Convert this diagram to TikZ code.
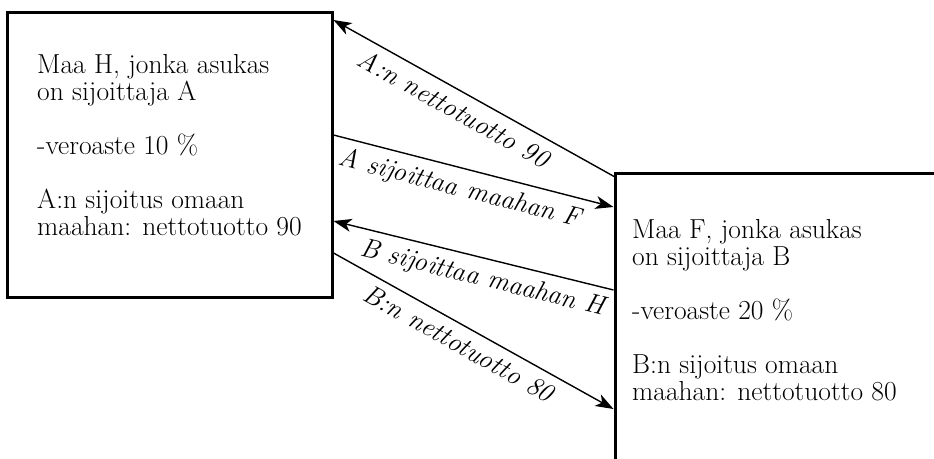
\documentclass[tikz,border=0pt]{standalone}
\usepackage{fontspec}
\usetikzlibrary{arrows.meta,calc}
\begin{document}
\begin{tikzpicture}[x=1pt,y=-1pt,
  box/.style={draw, line width=3pt, inner sep=0pt, anchor=north west},
  txt/.style={anchor=north west, inner sep=0pt, align=left, font=\fontsize{27.5}{27}\selectfont},
  arr/.style={line width=1.4pt},
  tip/.style={-{Stealth[length=18pt,width=13pt,inset=5pt]}},
  tipl/.style={{Stealth[length=18pt,width=13pt,inset=5pt]}-},
  lab/.style={font=\fontsize{27}{27}\selectfont\itshape, sloped, anchor=north, inner sep=8pt}]
\useasboundingbox (0,0) rectangle (934,458);
\fill[white] (0,0) rectangle (934,458);
\clip (0,0) rectangle (934,458);
\node[box, minimum width=325pt, minimum height=285pt] (H) at (5.5,10.5) {};
\node[box, minimum width=340pt, minimum height=320pt] (F) at (613.5,171.5) {};
\node[txt] (Ht) at (37,54) {Maa H, jonka asukas\\on sijoittaja A\\[27pt]-veroaste 10 \%\\[27pt]A:n sijoitus omaan\\maahan: nettotuotto 90};
\node[txt] (Ft) at (632,219) {Maa F, jonka asukas\\on sijoittaja B\\[27pt]-veroaste 20 \%\\[27pt]B:n sijoitus omaan\\maahan: nettotuotto 80};
\coordinate (h1) at ($(H.north east)+(0,9.5)$);
\coordinate (h2) at ($(H.north east)+(0,124.5)$);
\coordinate (h3) at ($(H.north east)+(0,210.5)$);
\coordinate (h4) at ($(H.north east)+(0,242.5)$);
\coordinate (f1) at ($(F.north west)+(1.5,5.5)$);
\coordinate (f2) at ($(F.north west)+(0,35.5)$);
\coordinate (f3) at ($(F.north west)+(0,118.5)$);
\coordinate (f4) at ($(F.north west)+(0,237.5)$);
\draw[arr, tipl] (h1) -- node[lab, pos=0.46] {A:n nettotuotto 90} (f1);
\draw[arr, tip] (h2) -- node[lab, pos=0.47] {A sijoittaa maahan F} (f2);
\draw[arr, tipl] (h3) -- node[lab, pos=0.55] {B sijoittaa maahan H} (f3);
\draw[arr, tip] (h4) -- node[lab, pos=0.48] {B:n nettotuotto 80} (f4);
\end{tikzpicture}
\end{document}
